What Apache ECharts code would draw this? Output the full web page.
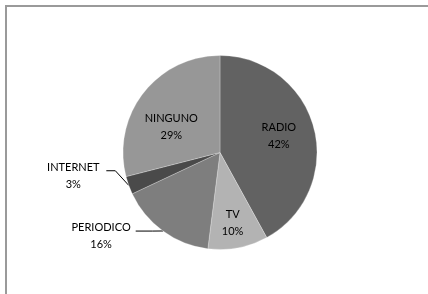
<!DOCTYPE html>
<html>
<head>
<meta charset="utf-8">
<script src="https://cdn.jsdelivr.net/npm/echarts@6/dist/echarts.min.js"></script>
<style>
  html, body { margin: 0; padding: 0; background: #fff; }
  #chart { width: 428px; height: 294px; }
</style>
</head>
<body>
<div id="chart"></div>
<script>
const categories = ["RADIO", "TV", "PERIODICO", "INTERNET", "NINGUNO"]
const shares = [42, 10, 16, 3, 29]
const sliceColors = ["#626262", "#b3b3b3", "#7e7e7e", "#4a4a4a", "#979797"]
const outsideLabels = ["PERIODICO", "INTERNET"]

// nudges so the labels sit where the original put them
const labelShift = {
    RADIO: [9, -4],
    TV: [3, 20],
    NINGUNO: [-8, 6],
    PERIODICO: [-11, -3],
    INTERNET: [-1, -13]
}
// horizontal part of the leader line for outside labels
const leaderFlat = { PERIODICO: 17, INTERNET: 9 }

const chart = echarts.init(document.getElementById("chart"), null, { renderer: "canvas" })

const data = categories.map((name, i) => {
    const outside = outsideLabels.includes(name)
    return {
        name: name,
        value: shares[i],
        itemStyle: { color: sliceColors[i] },
        label: { position: outside ? "outside" : "inside" },
        labelLine: { show: outside }
    }
})

chart.setOption({
    animation: false,
    textStyle: { fontFamily: "Lato" },
    graphic: [{
        type: "rect",
        shape: { x: 6, y: 6, width: 480, height: 340 },
        style: { fill: null, stroke: "#9a9a9a", lineWidth: 2 },
        silent: true
    }],
    series: [{
        type: "pie",
        center: [220, 152.5],
        radius: 97,
        startAngle: 90,
        clockwise: true,
        avoidLabelOverlap: false,
        itemStyle: { borderColor: "rgba(255,255,255,0.5)", borderWidth: 0.5 },
        label: {
            formatter: "{n|{b}}\n{n|{d}%}",
            color: "#000",
            fontFamily: "Lato",
            fontSize: 11,
            rich: {
                n: { align: "center", width: 56, lineHeight: 17, fontSize: 11, fontFamily: "Lato", color: "#000" }
            }
        },
        labelLine: {
            length: 10,
            length2: 12,
            lineStyle: { color: "#000", width: 1 }
        },
        labelLayout: params => {
            const name = categories[params.dataIndex]
            const s = labelShift[name]
            const out = { dx: s[0], dy: s[1] }
            if (leaderFlat[name] && params.labelLinePoints) {
                const r = params.labelRect
                const y = r.y + r.height / 2 + s[1] - 5
                const x = r.x + r.width + s[0] + 5
                out.labelLinePoints = [
                    params.labelLinePoints[0],
                    [x + leaderFlat[name], y],
                    [x, y]
                ]
            }
            return out
        },
        data: data
    }]
})
</script>
</body>
</html>
